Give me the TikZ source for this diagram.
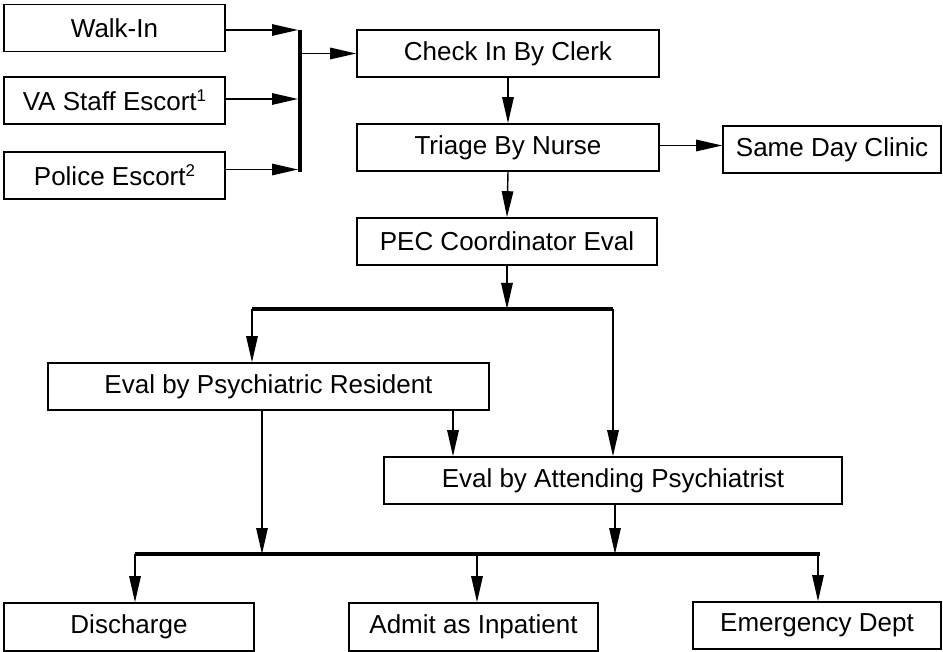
\documentclass[tikz,border=0pt]{standalone}
\usepackage{fontspec}
\setmainfont{Liberation Sans}
\usetikzlibrary{arrows.meta}
\newcommand{\notemark}[1]{\raisebox{9pt}{\fontsize{17}{17}\selectfont #1}}

\begin{document}
\begin{tikzpicture}[x=1pt,y=-1pt,
  box/.style={draw, line width=1.6pt, minimum height=47pt, inner sep=0pt, font=\fontsize{26}{30}\selectfont},
  flow/.style={line width=1.4pt, -{Triangle[length=26pt,width=11.5pt]}},
  bar/.style={line width=4pt}]
\useasboundingbox (0,0) rectangle (943,652);

\node[box, minimum width=221pt] (walkin) at (114.5,28) {Walk-In};
\node[box, minimum width=221pt] (vastaff) at (114.5,100.5) {VA Staff Escort\notemark{1}};
\node[box, minimum width=221pt] (police) at (114.5,175.5) {Police Escort\notemark{2}};
\node[box, minimum width=302pt] (checkin) at (508,53.5) {Check In By Clerk};
\node[box, minimum width=302pt] (triage) at (508,147.5) {Triage By Nurse};
\node[box, minimum width=218pt] (sameday) at (832,149.5) {Same Day Clinic};
\node[box, minimum width=300pt] (pec) at (507,241.5) {PEC Coordinator Eval};
\node[box, minimum width=441pt] (resident) at (268.5,386.5) {Eval by Psychiatric Resident};
\node[box, minimum width=458pt] (attending) at (613,480.5) {Eval by Attending Psychiatrist};
\node[box, minimum width=250pt, minimum height=48pt] (discharge) at (129,627) {Discharge};
\node[box, minimum width=249pt, minimum height=48pt] (admit) at (473.5,627) {Admit as Inpatient};
\node[box, minimum width=248pt] (emergency) at (817,625.5) {Emergency Dept};

\coordinate (intop) at (300,30);
\coordinate (inbot) at (300,172);
\coordinate (splitl) at (252,309);
\coordinate (splitr) at (613,309);
\coordinate (outl) at (135,554);
\coordinate (outr) at (820,554);

\draw[bar] (intop) -- (inbot);
\draw[bar] (splitl) -- (splitr);
\draw[bar] (outl) -- (outr);

\draw[flow, shorten >=2pt] ([yshift=-2pt]walkin.east) -- ([yshift=-2pt]walkin.east -| intop);
\draw[flow, shorten >=2pt] ([yshift=1.5pt]vastaff.east) -- ([yshift=1.5pt]vastaff.east -| intop);
\draw[flow, shorten >=2pt] ([yshift=6pt]police.east) -- ([yshift=6pt]police.east -| intop);
\draw[flow] (checkin.west -| intop) -- (checkin.west);
\draw[flow] (checkin.south) -- (triage.north);
\draw[flow] ([yshift=2pt]triage.east) -- ([yshift=2pt]triage.east -| sameday.west);
\draw[flow] (triage.south) -- (pec.north);
\draw[flow] (pec.south) -- (pec.south |- splitl);
\draw[flow] (splitl) -- (splitl |- resident.north);
\draw[flow] (splitr) -- (splitr |- attending.north);
\draw[flow] (453,0 |- resident.south) -- (453,0 |- attending.north);
\draw[flow] (262,0 |- resident.south) -- (262,0 |- outl);
\draw[flow] ([xshift=2pt]attending.south) -- ([xshift=2pt]attending.south |- outl);
\draw[flow] (outl) -- (outl |- discharge.north);
\draw[flow] (477,554) -- (477,0 |- admit.north);
\draw[flow] (818,554) -- (818,0 |- emergency.north);
\end{tikzpicture}
\end{document}
